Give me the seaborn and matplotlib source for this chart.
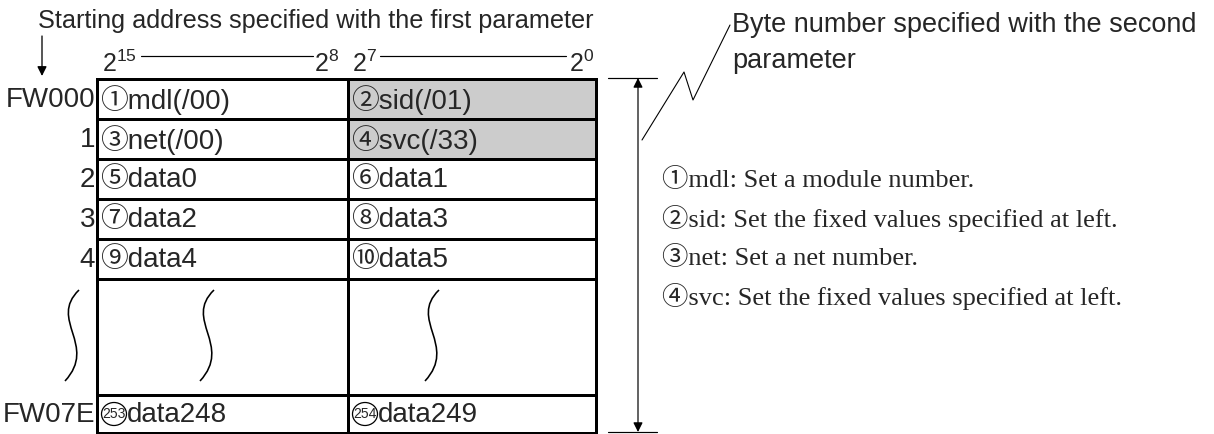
import matplotlib
matplotlib.use("Agg")
import matplotlib.pyplot as plt
from matplotlib.patches import Rectangle, Ellipse, PathPatch
from matplotlib.path import Path
import seaborn as sns

# table content
row_labels = ["FW000", "1", "2", "3", "4", "", "FW07E"]
high_bytes = ["①mdl(/00)", "③net(/00)", "⑤data0", "⑦data2", "⑨data4", "", "data248"]
low_bytes = ["②sid(/01)", "④svc(/33)", "⑥data1", "⑧data3", "⑩data5", "", "data249"]
last_marks = ["253", "254"]
shaded = [[0, 1], [0, 1], [0, 0], [0, 0], [0, 0], [0, 0], [0, 0]]
bit_labels = ["15", "8", "7", "0"]
notes = [
    "①mdl: Set a module number.",
    "②sid: Set the fixed values specified at left.",
    "③net: Set a net number.",
    "④svc: Set the fixed values specified at left.",
]
title_left = "Starting address specified with the first parameter"
title_right = ["Byte number specified with the second", "parameter"]

# layout in pixels
W, H = 1214, 434
col_x = [97, 348, 596]
row_h = [40, 40, 40, 40, 40, 116, 38]
top = 79
gap_row = 5
wave_x = [72, 207, 432]

sns.set_theme(style="white")
SANS = ["Liberation Sans", "Noto Sans CJK JP", "DejaVu Sans"]
SERIF = ["Liberation Serif", "Noto Sans CJK JP", "DejaVu Serif"]
plt.rcParams["font.family"] = SANS
plt.rcParams["mathtext.fontset"] = "custom"
plt.rcParams["mathtext.rm"] = "Liberation Sans"
plt.rcParams["mathtext.it"] = "Liberation Sans:italic"

FS = 20  # table text


def px(v):
    # pixel size -> points at dpi 100
    return v * 0.72


fig = plt.figure(figsize=(W / 100, H / 100), dpi=100)
ax = fig.add_axes([0, 0, 1, 1])
ax.set_xlim(0, W)
ax.set_ylim(H, 0)
ax.axis("off")

row_top = [top]
for h in row_h:
    row_top.append(row_top[-1] + h)
bottom = row_top[-1]

# shaded cells
for r, flags in enumerate(shaded):
    for c, f in enumerate(flags):
        if f:
            ax.add_patch(Rectangle((col_x[c], row_top[r]), col_x[c + 1] - col_x[c],
                                   row_h[r], facecolor="#cccccc", edgecolor="none", zorder=1))

# grid lines
lw = px(3)
for x in col_x:
    ax.plot([x, x], [top, bottom], color="black", lw=lw, solid_capstyle="projecting", zorder=3)
for y in row_top:
    ax.plot([col_x[0], col_x[-1]], [y, y], color="black", lw=lw, solid_capstyle="projecting", zorder=3)

# cell text
for r in range(len(row_h)):
    yc = (row_top[r] + row_top[r + 1]) / 2 + 1
    if row_labels[r]:
        ax.text(col_x[0] - 2, yc, row_labels[r], ha="right", va="center", fontsize=FS)
    if r == len(row_h) - 1:
        for c, (mark, txt) in enumerate(zip(last_marks, [high_bytes[r], low_bytes[r]])):
            ax.add_patch(Ellipse((col_x[c] + 17, yc - 1), 25, 23, fill=False, lw=0.9,
                                 edgecolor="black", zorder=4))
            ax.text(col_x[c] + 17, yc - 1, mark, ha="center", va="center", fontsize=10)
            ax.text(col_x[c] + 30, yc, txt, ha="left", va="center", fontsize=FS)
    else:
        for c, txt in enumerate([high_bytes[r], low_bytes[r]]):
            if txt:
                ax.text(col_x[c] + 3, yc, txt, ha="left", va="center", fontsize=FS)

# wavy break marks
g0, g1 = row_top[gap_row] + 11, row_top[gap_row + 1] - 14
for xc in wave_x:
    verts = [(xc + 7, g0), (xc - 24, g0 + 30), (xc + 26, g0 + 55), (xc - 7, g1)]
    path = Path(verts, [Path.MOVETO, Path.CURVE4, Path.CURVE4, Path.CURVE4])
    ax.add_patch(PathPatch(path, fill=False, lw=px(1.6), edgecolor="black", zorder=4))

# bit header
hy = 64
hfs = 18
ax.text(102, hy, r"$\mathregular{2^{%s}}$" % bit_labels[0], ha="left", va="center", fontsize=hfs)
ax.text(339, hy, r"$\mathregular{2^{%s}}$" % bit_labels[1], ha="right", va="center", fontsize=hfs)
ax.text(352, hy, r"$\mathregular{2^{%s}}$" % bit_labels[2], ha="left", va="center", fontsize=hfs)
ax.text(594, hy, r"$\mathregular{2^{%s}}$" % bit_labels[3], ha="right", va="center", fontsize=hfs)
ax.plot([141, 313], [56, 56], color="black", lw=px(1.2))
ax.plot([380, 566], [56, 56], color="black", lw=px(1.2))

# title + down arrow
ax.text(38, 21, title_left, ha="left", va="center", fontsize=18.2)
ax.annotate("", xy=(42, 76), xytext=(42, 36),
            arrowprops=dict(arrowstyle="-|>", color="black", lw=px(1.3), mutation_scale=14,
                            shrinkA=0, shrinkB=0))

# byte count dimension arrow
ax.plot([608, 657], [78, 78], color="black", lw=px(1.2))
ax.plot([608, 657], [432, 432], color="black", lw=px(1.2))
ax.annotate("", xy=(638, 78), xytext=(638, 432),
            arrowprops=dict(arrowstyle="<|-|>", color="black", lw=px(1.2), mutation_scale=14,
                            shrinkA=0, shrinkB=0))

# leader line to the right caption
ax.plot([642, 684, 693, 730], [140, 72, 100, 25], color="black", lw=px(1.1))
ax.text(732, 25, title_right[0], ha="left", va="center", fontsize=19.5)
ax.text(732, 61, title_right[1], ha="left", va="center", fontsize=19.5)

# notes
for i, note in enumerate(notes):
    ax.text(662, 180 + 39 * i, note, ha="left", va="center", fontsize=19, family=SERIF)

fig.savefig("out.png", dpi=100)
